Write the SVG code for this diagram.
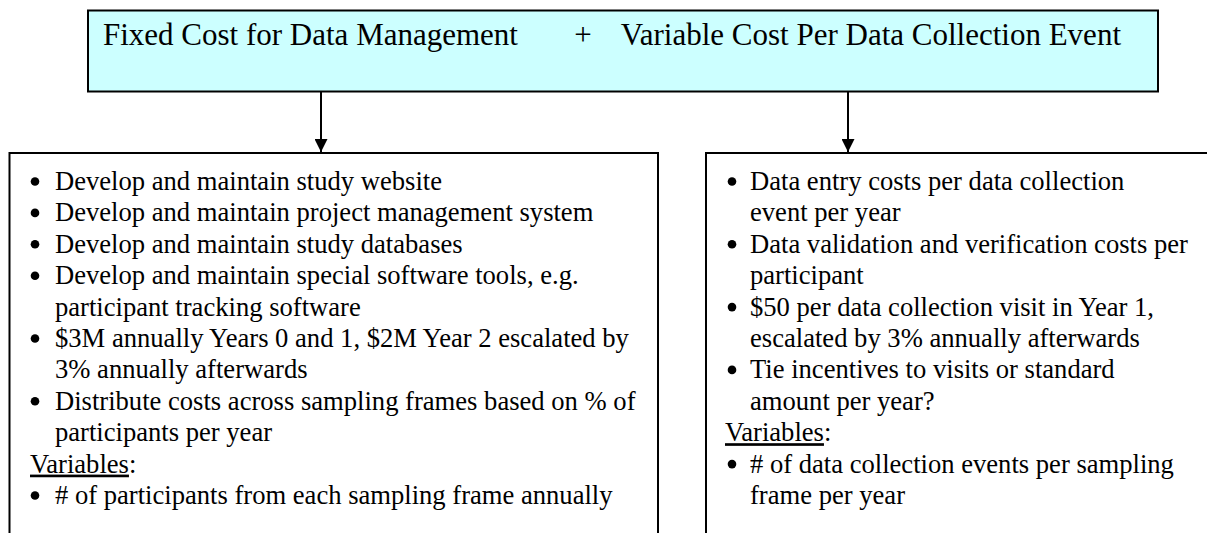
<svg xmlns="http://www.w3.org/2000/svg" width="1207" height="533" viewBox="0 0 1207 533">
<style>
.t{font-family:"Liberation Serif","Times New Roman",serif;font-size:26.6px;fill:#000}
.h{font-family:"Liberation Serif","Times New Roman",serif;font-size:31px;fill:#000}
.box{fill:#fff;stroke:#000;stroke-width:2}
.ln{stroke:#000;stroke-width:2;fill:none}
</style>
<defs>
<marker id="ah" viewBox="0 0 12 12" refX="12" refY="6" markerWidth="13" markerHeight="13" markerUnits="userSpaceOnUse" orient="auto">
<path d="M0,0 L12,6 L0,12 Z" fill="#000"/>
</marker>
</defs>
<rect width="1207" height="533" fill="#fff"/>
<g id="connectors">
<line class="ln" x1="321" y1="92" x2="321" y2="152" marker-end="url(#ah)"/>
<line class="ln" x1="848" y1="92" x2="848" y2="152" marker-end="url(#ah)"/>
</g>
<g id="top">
<rect x="88" y="10.5" width="1070" height="81" fill="#CCFFFF" stroke="#000" stroke-width="2"/>
<text class="h" x="103" y="45">Fixed Cost for Data Management</text>
<text class="h" x="583" y="45" text-anchor="middle">+</text>
<text class="h" x="1121" y="45" text-anchor="end">Variable Cost Per Data Collection Event</text>
</g>
<g id="fixed">
<rect class="box" x="9.5" y="153" width="648.5" height="420"/>
<g class="t">
<circle cx="35" cy="181.5" r="4.3"/><text x="55" y="190">Develop and maintain study website</text>
<circle cx="35" cy="212.9" r="4.3"/><text x="55" y="221.4">Develop and maintain project management system</text>
<circle cx="35" cy="244.3" r="4.3"/><text x="55" y="252.8">Develop and maintain study databases</text>
<circle cx="35" cy="275.7" r="4.3"/><text x="55" y="284.2">Develop and maintain special software tools, e.g.</text>
<text x="55" y="315.6">participant tracking software</text>
<circle cx="35" cy="338.5" r="4.3"/><text x="55" y="347">$3M annually Years 0 and 1, $2M Year 2 escalated by</text>
<text x="55" y="378.4">3% annually afterwards</text>
<circle cx="35" cy="401.3" r="4.3"/><text x="55" y="409.8">Distribute costs across sampling frames based on % of</text>
<text x="55" y="441.2">participants per year</text>
<text x="30" y="472.6"><tspan text-decoration="underline">Variables</tspan>:</text>
<circle cx="35" cy="495.5" r="4.3"/><text x="55" y="504">&#35; of participants from each sampling frame annually</text>
</g>
</g>
<g id="variable">
<rect class="box" x="706" y="153" width="520" height="420"/>
<g class="t">
<circle cx="732" cy="181.5" r="4.3"/><text x="750" y="190">Data entry costs per data collection</text>
<text x="750" y="221.4">event per year</text>
<circle cx="732" cy="244.3" r="4.3"/><text x="750" y="252.8">Data validation and verification costs per</text>
<text x="750" y="284.2">participant</text>
<circle cx="732" cy="307.1" r="4.3"/><text x="750" y="315.6">$50 per data collection visit in Year 1,</text>
<text x="750" y="347">escalated by 3% annually afterwards</text>
<circle cx="732" cy="369.9" r="4.3"/><text x="750" y="378.4">Tie incentives to visits or standard</text>
<text x="750" y="409.8">amount per year?</text>
<text x="725" y="441.2"><tspan text-decoration="underline">Variables</tspan>:</text>
<circle cx="732" cy="464.1" r="4.3"/><text x="750" y="472.6">&#35; of data collection events per sampling</text>
<text x="750" y="504">frame per year</text>
</g>
</g>
</svg>
